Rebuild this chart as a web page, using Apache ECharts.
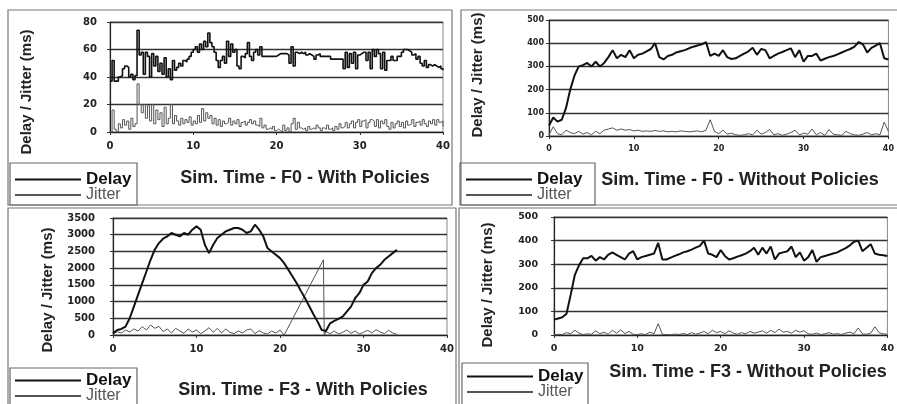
<!DOCTYPE html>
<html><head><meta charset="utf-8">
<script src="https://cdn.jsdelivr.net/npm/echarts@6/dist/echarts.min.js"></script>
<style>html,body{margin:0;padding:0;background:#fff}#c{width:897px;height:404px}</style>
</head><body><div id="c"></div>
<script>
// ---------- labels ----------
const seriesNames = ['Delay', 'Jitter'];
const panelTitles = [
  'Sim. Time - F0 - With Policies',
  'Sim. Time - F0 - Without Policies',
  'Sim. Time - F3 - With Policies',
  'Sim. Time - F3 - Without Policies'
];
const yAxisTitle = 'Delay / Jitter (ms)';
const xTickStep = 10, xMax = 40;
const yMaxes = [80, 500, 3500, 500];
const yTickSteps = [20, 100, 500, 100];

// ---------- Panel 1: F0 with policies (samples every 0.25 s) ----------
const p1Step = 0.25;
const p1Delay = [
  37,52,37,37, 40,41,46,48, 47,40,42,38, 41,74,56,58, 42,58,55,40,
  57,48,55,44, 50,42,54,40, 46,38,52,45, 47,50,48,52, 51,53,55,58,
  60,62,58,64, 60,66,62,72, 65,62,58,52, 47,52,55,50, 66,55,64,58,
  60,48,46,55, 54,57,65,55, 52,58,60,56, 62,55,55,55, 55,55,55,55,
  56,57,57,57, 57,56,50,62, 48,58,57,58, 57,58,56,57, 56,55,53,56,
  57,55,55,55, 55,55,53,53, 53,53,53,53, 46,58,47,57, 50,58,46,56,
  57,58,58,52, 58,46,60,55, 60,57,46,58, 45,52,52,55, 52,52,55,55,
  58,60,60,59, 58,56,57,53, 55,50,48,52, 47,49,48,49, 48,47,48,46, 45
];
const p1Jitter = [
  0,16,2,0, 6,3,9,5, 8,2,10,4, 6,35,20,14, 20,10,19,8,
  20,6,16,9, 14,4,18,6, 10,20,6,12, 8,5,10,6, 9,7,11,5,
  8,6,12,7, 17,8,14,10, 12,6,10,5, 9,4,8,6, 7,10,5,8,
  6,9,4,7, 8,5,7,9, 6,8,5,4, 10,3,5,2, 3,2,4,1,
  2,1,0,5, 1,3,0,6, 10,2,7,3, 2,3,1,4, 2,3,2,5,
  3,1,3,2, 5,2,3,1, 4,2,6,3, 4,7,3,6, 8,3,7,9,
  4,8,9,3, 7,9,8,4, 9,3,8,6, 9,4,2,7, 3,6,8,4,
  7,3,8,5, 6,9,4,7, 8,5,9,6, 4,8,6,9, 5,9,7,8, 4
];

// ---------- Panel 2: F0 without policies (every 0.5 s) ----------
const p2Step = 0.5;
const p2Delay = [
  45,80, 62,70, 120,200, 260,300, 305,315, 300,320, 300,315, 340,370,
  335,350, 340,370, 335,350, 355,365, 375,400, 340,330, 345,350,
  360,365, 370,378, 385,390, 395,405, 345,355, 345,370, 340,332,
  335,345, 355,365, 380,350, 375,370, 335,345, 355,362, 370,378,
  340,370, 320,345, 345,355, 325,333, 340,345, 352,360, 368,375,
  385,405, 395,360, 380,390, 400,335, 330
];
const p2Jitter = [
  5,40, 10,5, 25,15, 10,20, 8,15, 5,20, 10,25, 30,35, 25,30, 25,28,
  22,25, 20,22, 20,24, 20,22, 18,20, 18,22, 20,18, 20,22, 18,25,
  70,20, 10,25, 8,12, 5,3, 5,10, 5,25, 8,15, 28,5, 10,3, 8,15,
  25,5, 12,8, 30,5, 15,3, 28,8, 5,3, 20,10, 5,3, 8,15, 5,10, 5,60, 20
];

// ---------- Panel 3: F3 with policies ----------
const p3Step = 0.5;
const p3Delay = [
  50,150, 180,250, 500,850, 1200,1550, 1900,2250, 2550,2750, 2880,2950,
  3050,3000, 2950,3050, 3000,3150, 3250,3150, 2700,2450, 2700,2900,
  3000,3100, 3150,3200, 3200,3150, 3050,3100, 3300,3150, 2950,2600,
  2500,2400, 2300,2150, 1950,1750, 1550,1320, 1100,860, 620,400,
  150,120, 350,420, 480,550, 700,850, 1100,1250, 1500,1600, 1850,2000,
  2100,2250, 2350,2450, 2550
];
const p3JitterTime = [
  0,0.5,1,1.5,2,2.5,3,3.5,4,4.5,5,5.5,6,6.5,7,7.5,8,8.5,9,9.5,
  10,10.5,11,11.5,12,12.5,13,13.5,14,14.5,15,15.5,16,16.5,17,17.5,18,18.5,19,19.5,
  20,20.5,25.2,25.3,25.5,26,26.5,27,27.5,28,28.5,29,29.5,30,30.5,31,31.5,32,32.5,33,33.5,34
];
const p3Jitter = [
  20,100,60,150,90,180,120,250,150,300,200,260,100,180,60,200,120,50,180,90,
  150,40,120,220,80,200,60,180,80,40,120,60,150,180,40,130,60,30,120,60,
  150,0,2250,0,100,40,120,30,80,150,50,120,30,80,140,60,160,90,40,140,60,20
];

// ---------- Panel 4: F3 without policies (every 0.5 s) ----------
const p4Step = 0.5;
const p4Delay = [
  65,70, 75,90, 170,255, 295,325, 325,335, 315,330, 320,340, 350,340,
  330,320, 345,355, 320,330, 335,340, 345,390, 320,320, 328,335,
  342,350, 355,362, 370,378, 400,345, 340,330, 360,335, 320,325,
  332,338, 345,355, 370,340, 370,345, 375,320, 345,350, 355,375,
  330,350, 315,330, 360,310, 330,335, 340,345, 350,360, 368,380,
  395,400, 355,370, 385,345, 340,338, 335
];
const p4Jitter = [
  0,3, 2,10, 5,20, 8,2, 5,3, 18,5, 12,3, 20,8, 22,6, 15,3,
  2,5, 2,12, 5,48, 3,2, 1,4, 2,6, 2,10, 3,8, 15,5, 20,10,
  15,5, 18,8, 3,10, 5,15, 8,12, 18,8, 20,10, 25,12, 15,8, 20,12,
  18,5, 3,8, 2,5, 10,3, 6,2, 8,12, 5,30, 5,3, 8,35, 10,5, 3
];

// ---------- helpers ----------
const regular = (vals, step) => vals.map((v, i) => [i * step, v]);
const paired = (ts, vals) => vals.map((v, i) => [ts[i], v]);

const panels = [
  { delay: regular(p1Delay, p1Step), jitter: regular(p1Jitter, p1Step), step: 'end', dw: 1.6 },
  { delay: regular(p2Delay, p2Step), jitter: regular(p2Jitter, p2Step), step: false, dw: 2 },
  { delay: regular(p3Delay, p3Step), jitter: paired(p3JitterTime, p3Jitter), step: false, dw: 2 },
  { delay: regular(p4Delay, p4Step), jitter: regular(p4Jitter, p4Step), step: false, dw: 2 }
];

// ---------- layout (styles only) ----------
const gridBoxes = [
  { left: 110, top: 22, width: 333, height: 110 },
  { left: 549, top: 20, width: 354, height: 116 },
  { left: 113, top: 218, width: 334, height: 117 },
  { left: 554, top: 217, width: 355, height: 118 }
];
const yLabelMargins = [13, 5, 18, 16];
const tickSizes = [10, 8, 10, 9.5];
const titlePos = [[305, 178], [740, 180], [303, 390], [748, 372]];
const yNamePos = [[27, 92], [478, 75], [48, 290], [488, 285]];
const legendPos = [[14, 171], [465, 171], [14, 372], [466, 368]];
const legendBoxes = [[10, 163, 127, 42], [460, 163, 135, 42], [10, 368, 127, 40], [462, 363, 126, 45]];
const panelBoxes = [[8, 10, 444, 195], [461, 10, 450, 195], [8, 208, 448, 200], [459, 208, 450, 200]];

const tickFont = sz => ({ fontFamily: 'DejaVu Sans', fontWeight: 'bold', fontSize: sz, color: '#222', formatter: v => String(v) });

const option = {
  backgroundColor: '#ffffff',
  animation: false,
  grid: gridBoxes.map(g => Object.assign({ show: true, borderColor: '#888', borderWidth: 1, backgroundColor: 'transparent' }, g)),
  xAxis: gridBoxes.map((g, i) => ({
    type: 'value', gridIndex: i, min: 0, max: xMax, interval: xTickStep,
    axisLine: { show: true, lineStyle: { color: '#222', width: 1.2 } },
    axisTick: { show: true, length: 3, lineStyle: { color: '#333' } },
    splitLine: { show: false },
    axisLabel: Object.assign({ margin: 9 }, tickFont(tickSizes[i]))
  })),
  yAxis: gridBoxes.map((g, i) => ({
    type: 'value', gridIndex: i, min: 0, max: yMaxes[i], interval: yTickSteps[i],
    axisLine: { show: true, lineStyle: { color: '#222', width: 1.2 } },
    axisTick: { show: true, length: 3, lineStyle: { color: '#333' } },
    splitLine: { show: true, lineStyle: { color: '#333', width: 1.3 } },
    axisLabel: Object.assign({ margin: yLabelMargins[i] }, tickFont(tickSizes[i]))
  })),
  legend: legendPos.map(p => ({
    left: p[0], top: p[1], width: 130, height: 60, orient: 'vertical', itemWidth: 66, itemHeight: 10, itemGap: -1,
    padding: 0, data: seriesNames, selectedMode: false,
    itemStyle: { color: 'rgba(0,0,0,0)', borderWidth: 0, opacity: 0 },
    formatter: n => n === 'Delay' ? '{d|Delay}' : '{j|Jitter}',
    textStyle: { rich: {
      d: { fontFamily: 'Liberation Sans', fontWeight: 'bold', fontSize: 17, color: '#111', lineHeight: 15 },
      j: { fontFamily: 'Liberation Sans', fontSize: 16, color: '#555', lineHeight: 13 }
    } }
  })),
  series: panels.flatMap((p, i) => [
    { name: seriesNames[0], type: 'line', xAxisIndex: i, yAxisIndex: i, data: p.delay, step: p.step,
      showSymbol: false, symbol: 'none', lineStyle: { color: '#111', width: p.dw }, itemStyle: { color: '#111' }, z: 3 },
    { name: seriesNames[1], type: 'line', xAxisIndex: i, yAxisIndex: i, data: p.jitter, step: p.step,
      showSymbol: false, symbol: 'none', lineStyle: { color: '#555', width: 1 }, itemStyle: { color: '#555' }, z: 2 }
  ]),
  graphic: [].concat(
    panelBoxes.map(b => ({ type: 'rect', shape: { x: b[0], y: b[1], width: b[2], height: b[3] }, style: { fill: 'none', stroke: '#777', lineWidth: 1.2 }, silent: true, z: -1 })),
    legendBoxes.map(b => ({ type: 'rect', shape: { x: b[0], y: b[1], width: b[2], height: b[3] }, style: { fill: 'none', stroke: '#666', lineWidth: 1.2 }, silent: true, z: -1 })),
    titlePos.map((p, i) => ({ type: 'text', x: p[0], y: p[1], style: { text: panelTitles[i], fontFamily: 'Liberation Sans', fontWeight: 'bold', fontSize: 18, fill: '#222', align: 'center', verticalAlign: 'middle' }, silent: true })),
    yNamePos.map(p => ({ type: 'text', x: p[0], y: p[1], rotation: Math.PI / 2, style: { text: yAxisTitle, fontFamily: 'Liberation Sans', fontWeight: 'bold', fontSize: 15, fill: '#222', align: 'center', verticalAlign: 'middle' }, silent: true }))
  )
};

const chart = echarts.init(document.getElementById('c'), null, { renderer: 'canvas' });
chart.setOption(option);
</script>
</body></html>
